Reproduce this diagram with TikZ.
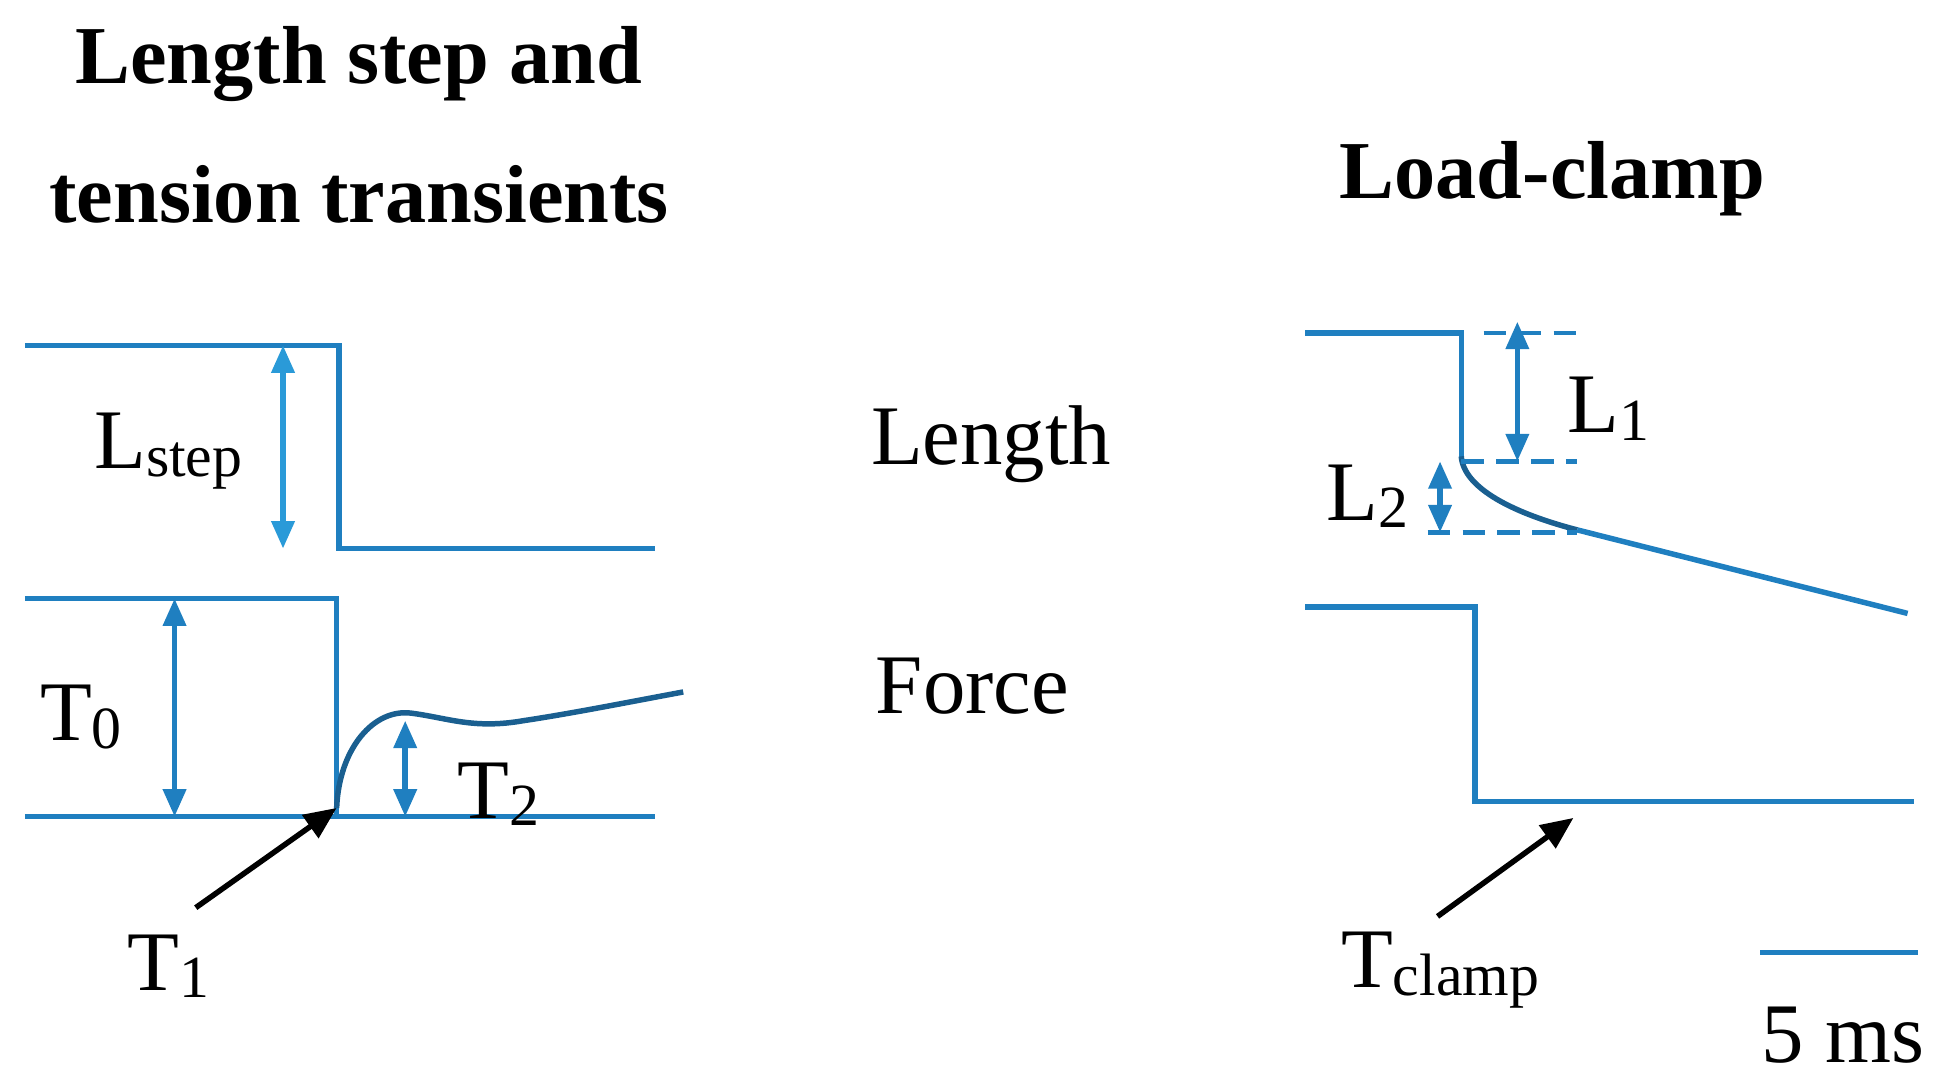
\documentclass[tikz,border=0pt]{standalone}
\usepackage{fontspec}
\setmainfont{Liberation Serif}
\usetikzlibrary{arrows.meta}
\definecolor{tr}{HTML}{1F7FC0}
\definecolor{lb}{HTML}{2A9AD8}
\definecolor{dk}{HTML}{1A5F90}
\begin{document}
\begin{tikzpicture}[x=0.5pt,y=-0.5pt,
 trace/.style={tr,line width=2.2pt},
 dim/.style={line width=2.2pt,{Triangle[length=11pt,width=9pt]}-{Triangle[length=11pt,width=9pt]}},
 dashln/.style={tr,line width=1.8pt,dash pattern=on 9pt off 5pt},
 pt/.style={black,line width=2.2pt,-{Triangle[length=13pt,width=11pt]}},
 lab/.style={font=\fontsize{34}{38}\selectfont,inner sep=0pt},
 ttl/.style={font=\bfseries\fontsize{33}{56}\selectfont,align=center}]
\useasboundingbox (0,0) rectangle (1560,872);
\newcommand{\sublab}[2]{#1{\fontsize{24}{26}\selectfont\raisebox{-3pt}{#2}}}
\node[ttl] (t1) at (288,100) {Length step and\\tension transients};
\node[ttl] (t2) at (1245,143) {Load-clamp};
% left length
\draw[trace] (20,277) -- (272,277) -- (272,440) -- (525,440);
\coordinate (a1) at (227,277); \coordinate (a2) at (227,440);
\draw[dim,lb] (a1) -- (a2);
\node[lab] (ls) at (135,362) {\sublab{L}{step}};
% left force
\draw[trace] (20,480) -- (270,480) -- (270,655);
\draw[trace] (20,655) -- (525,655);
\draw[dk,line width=2.2pt] (270,648) .. controls (272,600) and (300,568) .. (330,572) .. controls (360,576) and (380,585) .. (420,578) .. controls (460,572) and (510,562) .. (548,555);
\coordinate (b1) at (140,480); \coordinate (b2) at (140,655);
\draw[dim,tr] (b1) -- (b2);
\node[lab] (t0) at (65,575) {\sublab{T}{0}};
\coordinate (c1) at (325,578); \coordinate (c2) at (325,655);
\draw[dim,tr] (c1) -- (c2);
\node[lab] (tt2) at (400,637) {\sublab{T}{2}};
\coordinate (p1) at (157,728); \coordinate (p2) at (270,648);
\draw[pt] (p1) -- (p2);
\node[lab] (tt1) at (135,775) {\sublab{T}{1}};
\node[lab] (len) at (795,356) {Length};
\node[lab] (frc) at (780,550) {Force};
% right length
\draw[trace] (1047,267) -- (1172,267) -- (1172,368);
\draw[dk,line width=2.2pt] (1172,366) .. controls (1174,392) and (1215,412) .. (1265,425);
\draw[trace] (1265,425) -- (1530,492);
\draw[dashln] (1190,267) -- (1265,267);
\draw[dashln] (1172,370) -- (1265,370);
\draw[dashln] (1145,427) -- (1265,427);
\coordinate (d1) at (1217,258); \coordinate (d2) at (1217,370);
\draw[dim,tr] (d1) -- (d2);
\node[lab] (l1) at (1290,328) {\sublab{L}{1}};
\coordinate (e1) at (1155,370); \coordinate (e2) at (1155,427);
\draw[dim,tr] (e1) -- (e2);
\node[lab] (l2) at (1097,398) {\sublab{L}{2}};
% right force
\draw[trace] (1047,487) -- (1183,487) -- (1183,643) -- (1535,643);
\coordinate (q1) at (1153,735); \coordinate (q2) at (1262,656);
\draw[pt] (q1) -- (q2);
\node[lab] (tc) at (1155,778) {\sublab{T}{clamp}};
\coordinate (s1) at (1412,764); \coordinate (s2) at (1538,764);
\draw[trace] (s1) -- (s2);
\node[lab] (ms) at (1478,830) {5 ms};
\end{tikzpicture}
\end{document}
